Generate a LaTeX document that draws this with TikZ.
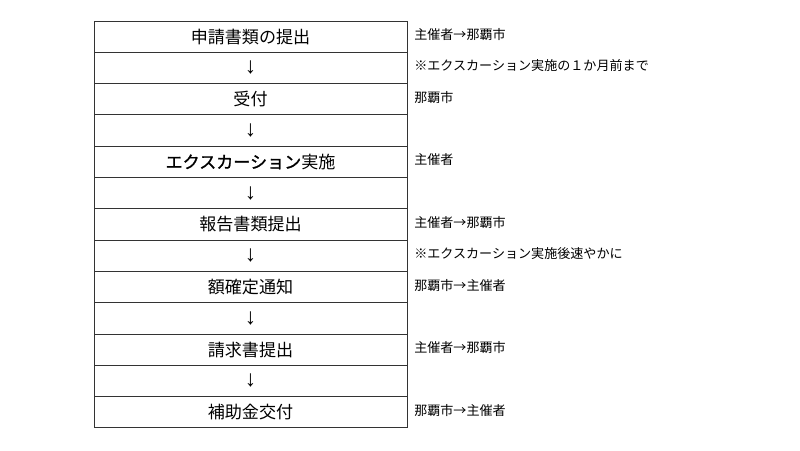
\documentclass[tikz,border=0pt]{standalone}
\usepackage{fontspec}
\newfontfamily\jp{Noto Sans CJK JP}
\newfontfamily\jpb[FakeBold=1.2]{Noto Sans CJK JP}
\newfontfamily\arrfont{Liberation Sans}
\newcommand\dnarrow{{\arrfont\fontsize{17}{17}\selectfont ↓}}
\begin{document}
\begin{tikzpicture}[x=0.75pt,y=-0.75pt,
  rowbox/.style={draw=black!80,line width=0.75pt,minimum width=234.75pt,minimum height=23.475pt,inner sep=0pt,font=\jp\fontsize{12.8}{14}\selectfont},
  note/.style={anchor=west,inner sep=0pt,font=\jp\fontsize{9.8}{11}\selectfont}]
\useasboundingbox (0,0) rectangle (800,450);
\foreach \i/\t in {1/申請書類の提出,2/\dnarrow,3/受付,4/\dnarrow,5/{{\jpb エクスカーション}実施},6/\dnarrow,7/報告書類提出,8/\dnarrow,9/額確定通知,10/\dnarrow,11/請求書提出,12/\dnarrow,13/補助金交付}{
  \node[rowbox] (r\i) at (250.5,{21+31.3*(\i-0.5)}) {\t};
}
\foreach \i/\n in {1/主催者→那覇市,2/※エクスカーション実施の１か月前まで,3/那覇市,5/主催者,7/主催者→那覇市,8/※エクスカーション実施後速やかに,9/那覇市→主催者,11/主催者→那覇市,13/那覇市→主催者}{
  \node[note] (l\i) at (414,{21+31.3*(\i-0.5)-2}) {\n};
}
\end{tikzpicture}
\end{document}
